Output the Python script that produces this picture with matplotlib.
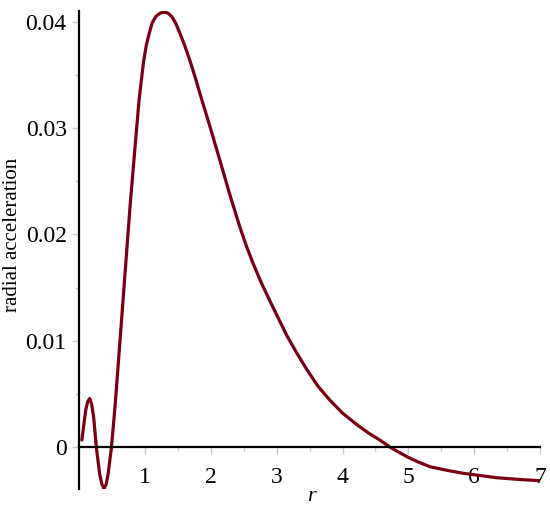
import matplotlib
matplotlib.use("Agg")
import matplotlib.pyplot as plt
from matplotlib.ticker import MultipleLocator, FixedLocator

# values
r = [0.04, 0.10, 0.13, 0.16, 0.19, 0.22, 0.26, 0.31, 0.345, 0.377, 0.41, 0.44,
     0.49, 0.544, 0.62, 0.696, 0.772, 0.848, 0.909, 0.977, 1.02, 1.068, 1.11,
     1.167, 1.23, 1.29, 1.35, 1.415, 1.47, 1.53, 1.60, 1.684, 1.76, 1.836,
     1.988, 2.14, 2.29, 2.44, 2.54, 2.646, 2.77, 2.90, 3.153, 3.30, 3.457, 3.63,
     3.81, 4.0, 4.22, 4.40, 4.57, 4.72, 4.98, 5.15, 5.33, 5.60, 5.84, 6.10,
     6.34, 6.70, 7.0]
accel = [0.00066, 0.0035, 0.0043, 0.00457, 0.0040, 0.0028, 0.0, -0.0025,
         -0.0035, -0.0039, -0.0035, -0.0025, 0.0, 0.0038, 0.0100, 0.0163, 0.0226,
         0.0282, 0.0326, 0.0362, 0.0378, 0.0390, 0.0399, 0.0405, 0.0408, 0.0409,
         0.0408, 0.0404, 0.0398, 0.0389, 0.0378, 0.0363, 0.0348, 0.0332, 0.0301,
         0.0269, 0.0237, 0.0207, 0.0189, 0.0172, 0.0154, 0.0137, 0.0105, 0.0089,
         0.0073, 0.0057, 0.0044, 0.0032, 0.0021, 0.0013, 0.00065, 0.0, -0.00091,
         -0.0014, -0.00185, -0.0022, -0.00247, -0.00268, -0.00288, -0.00305,
         -0.00316]

x_ticks = [1, 2, 3, 4, 5, 6, 7]
y_ticks = [0, 0.01, 0.02, 0.03, 0.04]
y_tick_labels = ["0", "0.01", "0.02", "0.03", "0.04"]

plt.rcParams["font.family"] = ["Liberation Serif", "DejaVu Serif"]

fig = plt.figure(figsize=(5.5, 5.08), dpi=100)
ax = fig.add_axes([0.144, 0.0374, 0.8378, 0.941])

ax.plot(r, accel, color="#7a0010", lw=2.3, solid_joinstyle="round",
        solid_capstyle="round")

ax.set_xlim(0, 7)
ax.set_ylim(-0.00394, 0.0410)

for side in ["top", "right"]:
    ax.spines[side].set_visible(False)
ax.spines["left"].set_position(("data", 0))
ax.spines["bottom"].set_position(("data", 0))
for side in ["left", "bottom"]:
    ax.spines[side].set_linewidth(1.6)
    ax.spines[side].set_color("black")

ax.xaxis.set_major_locator(FixedLocator(x_ticks))
ax.xaxis.set_minor_locator(MultipleLocator(0.5))
ax.set_yticks(y_ticks)
ax.set_yticklabels(y_tick_labels)
ax.yaxis.set_minor_locator(MultipleLocator(0.005))

ax.tick_params(which="both", direction="out", color="#c8c8c8", width=1)
ax.tick_params(which="major", length=5, labelsize=17, pad=4)
ax.tick_params(axis="x", which="major", pad=9)
ax.tick_params(which="minor", length=3)

ax.set_xlabel("r", fontsize=16, fontstyle="italic", va="baseline")
ax.xaxis.set_label_coords(0.505, -0.026)
ax.set_ylabel("radial acceleration", fontsize=15)
ax.yaxis.set_label_coords(-0.125, 0.531)

fig.savefig("out.png", dpi=100)
